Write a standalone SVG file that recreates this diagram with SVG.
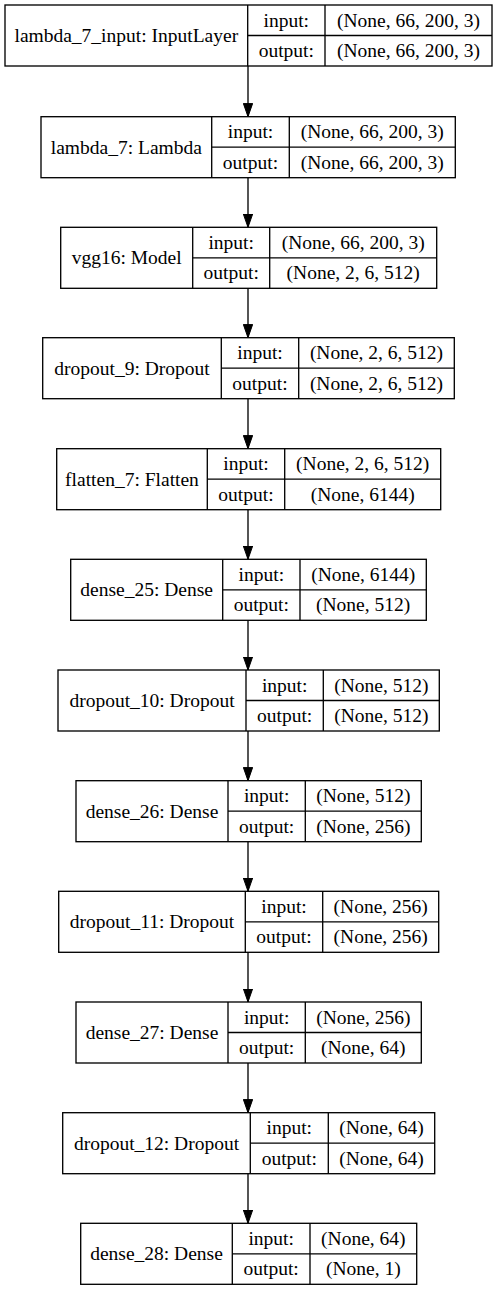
<svg xmlns="http://www.w3.org/2000/svg" width="497" height="1291" viewBox="0 0 497 1291">
<style>
.box{fill:#fff;stroke:#000;stroke-width:1.33}
.div{stroke:#000;stroke-width:1.33}
text{font-family:"Liberation Serif","Times New Roman",serif;font-size:19.5px;fill:#000;text-anchor:middle}
.edge{stroke:#000;stroke-width:1.33;fill:none;marker-end:url(#arr)}
</style>
<defs>
<marker id="arr" markerUnits="userSpaceOnUse" markerWidth="14" markerHeight="10" refX="13.3" refY="4.67" orient="auto">
<path d="M0,0 L13.3,4.67 L0,9.33 z" fill="#000" stroke="#000" stroke-width="1"/>
</marker>
</defs>
<rect width="497" height="1291" fill="#fff"/>
<g id="connectors">
<line class="edge" x1="248" y1="66" x2="248" y2="116.7"/>
<line class="edge" x1="248" y1="177.7" x2="248" y2="227.3"/>
<line class="edge" x1="248" y1="288.3" x2="248" y2="337.7"/>
<line class="edge" x1="248" y1="398.7" x2="248" y2="448.7"/>
<line class="edge" x1="248" y1="509.7" x2="248" y2="559.3"/>
<line class="edge" x1="248" y1="620.3" x2="248" y2="670"/>
<line class="edge" x1="248" y1="731" x2="248" y2="780.7"/>
<line class="edge" x1="248" y1="841.7" x2="248" y2="891.3"/>
<line class="edge" x1="248" y1="952.3" x2="248" y2="1002"/>
<line class="edge" x1="248" y1="1063" x2="248" y2="1112.7"/>
<line class="edge" x1="248" y1="1173.7" x2="248" y2="1223.3"/>
</g>
<g id="lambda_7_input">
<rect class="box" x="5" y="5" width="487" height="61"/>
<line class="div" x1="247.7" y1="5" x2="247.7" y2="66"/><line class="div" x1="325" y1="5" x2="325" y2="66"/><line class="div" x1="247.7" y1="35.5" x2="492" y2="35.5"/>
<text x="126.3" y="41.8">lambda_7_input: InputLayer</text>
<text x="286.3" y="26.5">input:</text><text x="286.3" y="57">output:</text>
<text x="408.5" y="26.5">(None, 66, 200, 3)</text><text x="408.5" y="57">(None, 66, 200, 3)</text>
</g>
<g id="lambda_7">
<rect class="box" x="41" y="116.7" width="414.3" height="61"/>
<line class="div" x1="211.7" y1="116.7" x2="211.7" y2="177.7"/><line class="div" x1="289.3" y1="116.7" x2="289.3" y2="177.7"/><line class="div" x1="211.7" y1="147.2" x2="455.3" y2="147.2"/>
<text x="126.35" y="153.5">lambda_7: Lambda</text>
<text x="250.5" y="138.2">input:</text><text x="250.5" y="168.7">output:</text>
<text x="372.3" y="138.2">(None, 66, 200, 3)</text><text x="372.3" y="168.7">(None, 66, 200, 3)</text>
</g>
<g id="vgg16">
<rect class="box" x="60.7" y="227.3" width="376" height="61"/>
<line class="div" x1="192.7" y1="227.3" x2="192.7" y2="288.3"/><line class="div" x1="269.7" y1="227.3" x2="269.7" y2="288.3"/><line class="div" x1="192.7" y1="257.8" x2="436.7" y2="257.8"/>
<text x="126.7" y="264.1">vgg16: Model</text>
<text x="231.2" y="248.8">input:</text><text x="231.2" y="279.3">output:</text>
<text x="353.2" y="248.8">(None, 66, 200, 3)</text><text x="353.2" y="279.3">(None, 2, 6, 512)</text>
</g>
<g id="dropout_9">
<rect class="box" x="42.7" y="337.7" width="411.6" height="61"/>
<line class="div" x1="221.3" y1="337.7" x2="221.3" y2="398.7"/><line class="div" x1="298.7" y1="337.7" x2="298.7" y2="398.7"/><line class="div" x1="221.3" y1="368.2" x2="454.3" y2="368.2"/>
<text x="132" y="374.5">dropout_9: Dropout</text>
<text x="260" y="359.2">input:</text><text x="260" y="389.7">output:</text>
<text x="376.5" y="359.2">(None, 2, 6, 512)</text><text x="376.5" y="389.7">(None, 2, 6, 512)</text>
</g>
<g id="flatten_7">
<rect class="box" x="56.7" y="448.7" width="384" height="61"/>
<line class="div" x1="207.3" y1="448.7" x2="207.3" y2="509.7"/><line class="div" x1="284.7" y1="448.7" x2="284.7" y2="509.7"/><line class="div" x1="207.3" y1="479.2" x2="440.7" y2="479.2"/>
<text x="132" y="485.5">flatten_7: Flatten</text>
<text x="246" y="470.2">input:</text><text x="246" y="500.7">output:</text>
<text x="362.7" y="470.2">(None, 2, 6, 512)</text><text x="362.7" y="500.7">(None, 6144)</text>
</g>
<g id="dense_25">
<rect class="box" x="70.7" y="559.3" width="355.6" height="61"/>
<line class="div" x1="222.7" y1="559.3" x2="222.7" y2="620.3"/><line class="div" x1="300" y1="559.3" x2="300" y2="620.3"/><line class="div" x1="222.7" y1="589.8" x2="426.3" y2="589.8"/>
<text x="146.7" y="596.1">dense_25: Dense</text>
<text x="261.35" y="580.8">input:</text><text x="261.35" y="611.3">output:</text>
<text x="363.15" y="580.8">(None, 6144)</text><text x="363.15" y="611.3">(None, 512)</text>
</g>
<g id="dropout_10">
<rect class="box" x="58" y="670" width="381.3" height="61"/>
<line class="div" x1="246" y1="670" x2="246" y2="731"/><line class="div" x1="323.3" y1="670" x2="323.3" y2="731"/><line class="div" x1="246" y1="700.5" x2="439.3" y2="700.5"/>
<text x="152" y="706.8">dropout_10: Dropout</text>
<text x="284.65" y="691.5">input:</text><text x="284.65" y="722">output:</text>
<text x="381.3" y="691.5">(None, 512)</text><text x="381.3" y="722">(None, 512)</text>
</g>
<g id="dense_26">
<rect class="box" x="76" y="780.7" width="345.3" height="61"/>
<line class="div" x1="228" y1="780.7" x2="228" y2="841.7"/><line class="div" x1="305.3" y1="780.7" x2="305.3" y2="841.7"/><line class="div" x1="228" y1="811.2" x2="421.3" y2="811.2"/>
<text x="152" y="817.5">dense_26: Dense</text>
<text x="266.65" y="802.2">input:</text><text x="266.65" y="832.7">output:</text>
<text x="363.3" y="802.2">(None, 512)</text><text x="363.3" y="832.7">(None, 256)</text>
</g>
<g id="dropout_11">
<rect class="box" x="58.7" y="891.3" width="380" height="61"/>
<line class="div" x1="245.3" y1="891.3" x2="245.3" y2="952.3"/><line class="div" x1="322.7" y1="891.3" x2="322.7" y2="952.3"/><line class="div" x1="245.3" y1="921.8" x2="438.7" y2="921.8"/>
<text x="152" y="928.1">dropout_11: Dropout</text>
<text x="284" y="912.8">input:</text><text x="284" y="943.3">output:</text>
<text x="380.7" y="912.8">(None, 256)</text><text x="380.7" y="943.3">(None, 256)</text>
</g>
<g id="dense_27">
<rect class="box" x="76" y="1002" width="345.3" height="61"/>
<line class="div" x1="228" y1="1002" x2="228" y2="1063"/><line class="div" x1="305.3" y1="1002" x2="305.3" y2="1063"/><line class="div" x1="228" y1="1032.5" x2="421.3" y2="1032.5"/>
<text x="152" y="1038.8">dense_27: Dense</text>
<text x="266.65" y="1023.5">input:</text><text x="266.65" y="1054">output:</text>
<text x="363.3" y="1023.5">(None, 256)</text><text x="363.3" y="1054">(None, 64)</text>
</g>
<g id="dropout_12">
<rect class="box" x="62.7" y="1112.7" width="372" height="61"/>
<line class="div" x1="250.3" y1="1112.7" x2="250.3" y2="1173.7"/><line class="div" x1="328.3" y1="1112.7" x2="328.3" y2="1173.7"/><line class="div" x1="250.3" y1="1143.2" x2="434.7" y2="1143.2"/>
<text x="156.5" y="1149.5">dropout_12: Dropout</text>
<text x="289.3" y="1134.2">input:</text><text x="289.3" y="1164.7">output:</text>
<text x="381.5" y="1134.2">(None, 64)</text><text x="381.5" y="1164.7">(None, 64)</text>
</g>
<g id="dense_28">
<rect class="box" x="80.7" y="1223.3" width="336" height="61"/>
<line class="div" x1="232.3" y1="1223.3" x2="232.3" y2="1284.3"/><line class="div" x1="310" y1="1223.3" x2="310" y2="1284.3"/><line class="div" x1="232.3" y1="1253.8" x2="416.7" y2="1253.8"/>
<text x="156.5" y="1260.1">dense_28: Dense</text>
<text x="271.15" y="1244.8">input:</text><text x="271.15" y="1275.3">output:</text>
<text x="363.35" y="1244.8">(None, 64)</text><text x="363.35" y="1275.3">(None, 1)</text>
</g>
</svg>
